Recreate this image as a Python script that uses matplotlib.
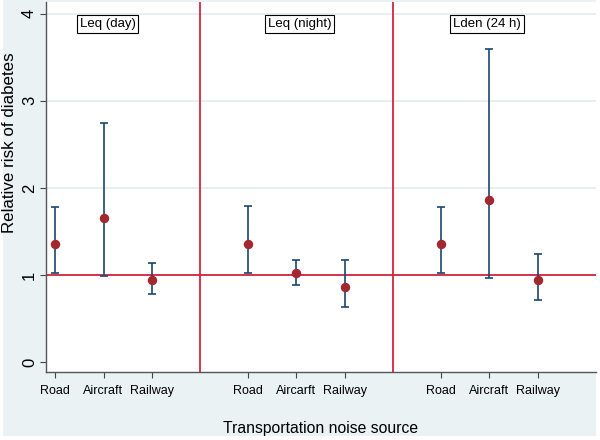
import matplotlib
matplotlib.use("Agg")
import matplotlib.pyplot as plt
from matplotlib.patches import Rectangle

plt.rcParams['font.family'] = ['Liberation Sans', 'DejaVu Sans']

panels = ['Leq (day)', 'Leq (night)', 'Lden (24 h)']
x_pos = [1, 2, 3, 5, 6, 7, 9, 10, 11]
x_labels = ['Road', 'Aircraft', 'Railway',
            'Road', 'Aircarft', 'Railway',
            'Road', 'Aircraft', 'Railway']
rr = [1.35, 1.65, 0.94, 1.35, 1.02, 0.86, 1.35, 1.86, 0.94]
lo = [1.02, 0.99, 0.78, 1.02, 0.88, 0.63, 1.02, 0.96, 0.71]
hi = [1.78, 2.74, 1.14, 1.79, 1.17, 1.17, 1.78, 3.59, 1.24]
panel_label_x = [2.09, 6.07, 9.95]
dividers = [4, 8]
y_ticks = [0, 1, 2, 3, 4]

W, H = 600, 440
fig = plt.figure(figsize=(6, 4.4), dpi=100, facecolor='white')
fig.patches.append(Rectangle((3 / W, 4 / H), (596 - 3) / W, (H - 4) / H,
                             transform=fig.transFigure, facecolor='#eaf2f3',
                             edgecolor='none', zorder=-10))

ax_left, ax_right, ax_top, ax_bot = 45.5, 596, 2, 372
ax = fig.add_axes([ax_left / W, (H - ax_bot) / H, (ax_right - ax_left) / W,
                   (ax_bot - ax_top) / H])
ax.set_facecolor('white')
ax.set_xlim(0.797, 12.21)
ax.set_ylim(-0.115, 4.134)

for yt in y_ticks[1:]:
    ax.axhline(yt, color='#e6eef0', lw=1.4, zorder=0)

red = '#d4243f'
ax.axhline(1, color=red, lw=1.3, zorder=1)
for d in dividers:
    ax.axvline(d, color=red, lw=1.3, zorder=1)

yerr = [[r - l for r, l in zip(rr, lo)], [h - r for r, h in zip(rr, hi)]]
ax.errorbar(x_pos, rr, yerr=yerr, fmt='none', ecolor='#1a476f', elinewidth=1.2,
            capsize=2.7, capthick=1.2, zorder=2)
ax.plot(x_pos, rr, 'o', color='#a1282e', markersize=5.8, zorder=3)

for lbl, xx in zip(panels, panel_label_x):
    ax.text(xx, 3.88, lbl, ha='center', va='center', fontsize=9.5,
            bbox=dict(boxstyle='square,pad=0.2', facecolor='white',
                      edgecolor='black', linewidth=0.8))

ax.set_xticks(x_pos)
ax.set_xticklabels(x_labels, fontsize=9)
ax.set_yticks(y_ticks)
ax.set_yticklabels([str(t) for t in y_ticks], fontsize=12, rotation=90,
                   ha='center', va='center')
ax.tick_params(axis='y', length=4.5, width=0.8, color='#444444', pad=7)
ax.tick_params(axis='x', length=4.5, width=0.8, color='#444444', pad=5)

for s in ['top', 'right']:
    ax.spines[s].set_visible(False)
for s in ['left', 'bottom']:
    ax.spines[s].set_color('#555555')
    ax.spines[s].set_linewidth(1)

ax.set_ylabel('Relative risk of diabetes', fontsize=12.2, va='center')
ax.yaxis.set_label_coords((10 - ax_left) / (ax_right - ax_left),
                          (ax_bot - 143) / (ax_bot - ax_top))
ax.set_xlabel('Transportation noise source', fontsize=11.3, va='center')
ax.xaxis.set_label_coords(0.5, -(428 - ax_bot) / (ax_bot - ax_top))

fig.savefig('out.png', dpi=100, facecolor='white')
